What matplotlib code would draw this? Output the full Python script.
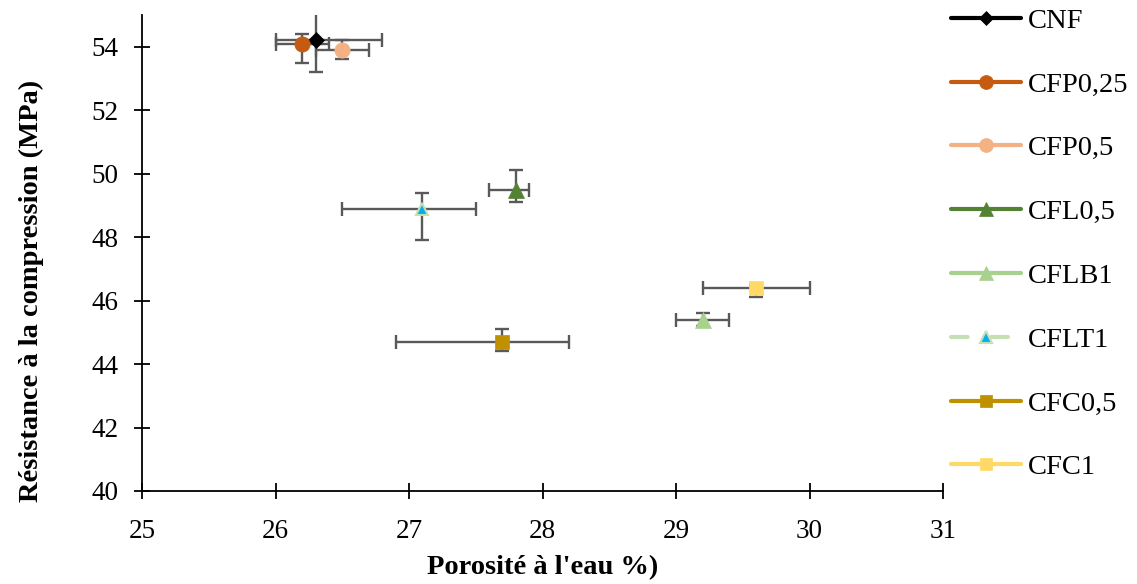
import numpy as np
import matplotlib.pyplot as plt
from matplotlib.lines import Line2D

plt.rcParams['font.family'] = ['Liberation Serif', 'DejaVu Serif']

# Data
names = ["CNF", "CFP0,25", "CFP0,5", "CFL0,5", "CFLB1", "CFLT1", "CFC0,5", "CFC1"]
porosity = [26.3, 26.2, 26.5, 27.8, 29.2, 27.1, 27.7, 29.6]
strength = [54.2, 54.1, 53.9, 49.5, 45.4, 48.9, 44.7, 46.4]
x_err_low = [0.3, 0.2, 0.2, 0.2, 0.2, 0.6, 0.8, 0.4]
x_err_high = [0.5, 0.2, 0.2, 0.1, 0.2, 0.4, 0.5, 0.4]
y_err_low = [1.0, 0.6, 0.3, 0.4, 0.2, 1.0, 0.3, 0.3]
y_err_high = [1.0, 0.3, 0.3, 0.6, 0.2, 0.5, 0.4, 0.1]

# styles
face_colors = ["black", "#C55A11", "#F4B183", "#548235", "#A9D18E", "#00B0F0", "#BF9000", "#FFD966"]
line_colors = ["black", "#C55A11", "#F4B183", "#548235", "#A9D18E", "#C5E0B4", "#BF9000", "#FFD966"]
markers = ["D", "o", "o", "^", "^", "^", "s", "s"]
msizes = [8, 11, 11, 11, 11, 9, 10, 10]
lstyles = ["-", "-", "-", "-", "-", (0, (4, 5.67)), "-", "-"]

fig = plt.figure(figsize=(11.37, 5.84), dpi=100)
ax = fig.add_axes([142 / 1137, 1 - 491 / 584, (943 - 142) / 1137, (491 - 15) / 584])

handles = []
for i in range(len(names)):
    ax.errorbar(porosity[i], strength[i],
                xerr=[[x_err_low[i]], [x_err_high[i]]],
                yerr=[[y_err_low[i]], [y_err_high[i]]],
                fmt="none", ecolor="#595959", elinewidth=1.7, capsize=5, capthick=1.7, zorder=2)
    ax.plot(porosity[i], strength[i], linestyle="none", marker=markers[i], markersize=msizes[i],
            markerfacecolor=face_colors[i], markeredgecolor=line_colors[i],
            markeredgewidth=1.5 if i == 5 else 0.5, zorder=3, clip_on=False)
    handles.append(Line2D([], [], color=line_colors[i], linestyle=lstyles[i], linewidth=3,
                          marker=markers[i], markersize=msizes[i] - 1,
                          markerfacecolor=face_colors[i], markeredgecolor=line_colors[i],
                          markeredgewidth=1.5 if i == 5 else 0.5, solid_capstyle="round",
                          dash_capstyle="round"))

ax.set_xlim(25, 31)
ax.set_ylim(40, 55)
ax.set_xticks(np.arange(25, 32, 1))
ax.set_yticks(np.arange(40, 55, 2))
ax.spines["top"].set_visible(False)
ax.spines["right"].set_visible(False)
ax.spines["left"].set_linewidth(1.3)
ax.spines["bottom"].set_linewidth(1.3)
ax.tick_params(axis="both", labelsize=19.5, direction="inout", length=12, width=1.3)
ax.tick_params(axis="x", pad=14)
ax.tick_params(axis="y", pad=11)
ax.set_xlabel("Porosité à l'eau %)", fontsize=20.5, fontweight="bold", labelpad=8)
ax.set_ylabel("Résistance à la compression (MPa)", fontsize=20.5, fontweight="bold")
ax.yaxis.set_label_coords(-0.122, 0.42)

fig.legend(handles, names, loc="upper left", bbox_to_anchor=(948 / 1137, 1 - 5 / 584),
           frameon=False, fontsize=20.5, handlelength=2.45, handletextpad=0.25,
           labelspacing=1.33, borderaxespad=0, borderpad=0.1)

fig.savefig("out.png", dpi=100)
